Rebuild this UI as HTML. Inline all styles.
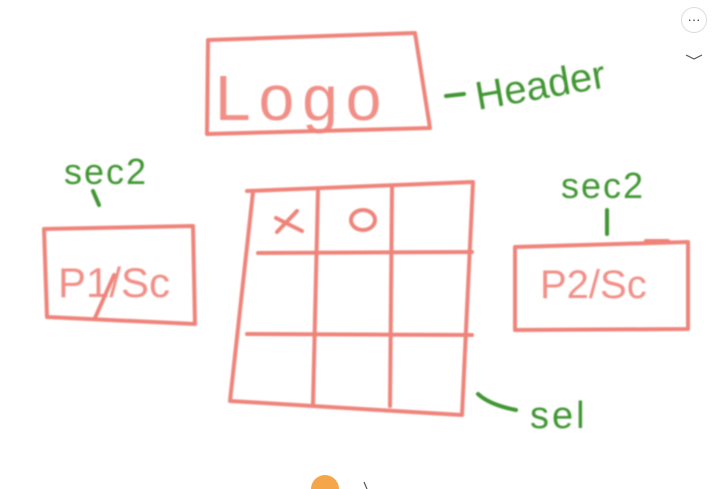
<!DOCTYPE html>
<html><head><meta charset="utf-8"><style>
html,body{margin:0;padding:0;background:#fff;width:717px;height:489px;overflow:hidden}
svg{display:block}
.r{fill:none;stroke:#ef837a;stroke-width:4;stroke-linecap:round;stroke-linejoin:round}
.g{fill:none;stroke:#3f9533;stroke-width:4;stroke-linecap:round;stroke-linejoin:round}
.rt{fill:#ef837a;font-family:"Liberation Sans",sans-serif;fill-opacity:0.9}
.gt{fill:#3f9533;font-family:"Liberation Sans",sans-serif}
</style></head><body>
<svg width="717" height="489" viewBox="0 0 717 489">
<defs><filter id="b"><feGaussianBlur stdDeviation="0.7"/></filter></defs>
<g filter="url(#b)">
<g>
<path class="r" d="M208,40 L415,33 L430,128 L207,134 Z"/>
<text class="rt" x="215" y="120" font-size="64" letter-spacing="8">Logo</text>
</g>
<g>
<path class="g" d="M446,96 L464,94"/>
<text class="gt" x="478" y="110" font-size="40" transform="rotate(-10 478 110)">Header</text>
</g>
<g>
<path class="r" d="M44,229 L193,226 L195,324 L47,317 Z"/>
<text class="rt" x="58" y="297" font-size="42">P1/Sc</text>
<path class="r" d="M95,318 L114,275"/>
</g>
<g>
<text class="gt" x="64" y="184" font-size="36" letter-spacing="2">sec2</text>
<path class="g" d="M93,191 L99,205"/>
</g>
<g>
<path class="r" d="M515,247 L688,242 L688,329 L515,330 Z"/>
<path class="r" d="M646,241 L668,241"/>
<text class="rt" x="540" y="298" font-size="40">P2/Sc</text>
</g>
<g>
<text class="gt" x="561" y="198" font-size="36" letter-spacing="2">sec2</text>
<path class="g" d="M607,210 L607,234"/>
</g>
<g>
<path class="r" d="M247,191 L473,182 L462,415 L230,401 L253,192"/>
<path class="r" d="M318,190 L313,404"/>
<path class="r" d="M392,188 L390,406"/>
<path class="r" d="M258,253 L472,252"/>
<path class="r" d="M247,334 L472,335"/>
<path class="r" d="M276,218 L302,231 M297,211 L277,232"/>
<ellipse class="r" cx="363" cy="220" rx="12" ry="10"/>
</g>
<g>
<path class="g" d="M478,394 Q490,405 516,410"/>
<text class="gt" x="530" y="428" font-size="38" letter-spacing="3">sel</text>
</g>
</g>
<g>
<circle cx="694" cy="20" r="12.5" fill="#fff" stroke="#ddd" stroke-width="1"/>
<text x="694" y="24" font-size="13" text-anchor="middle" fill="#333" font-family="Liberation Sans,sans-serif">···</text>
</g>
<path d="M686,55 L694,59 L702,55" fill="none" stroke="#555" stroke-width="1.2"/>
<circle cx="325" cy="489" r="14" fill="#f5a54a"/>
<path d="M364,482 L367,489" stroke="#555" stroke-width="1.2"/>
</svg>
</body></html>
